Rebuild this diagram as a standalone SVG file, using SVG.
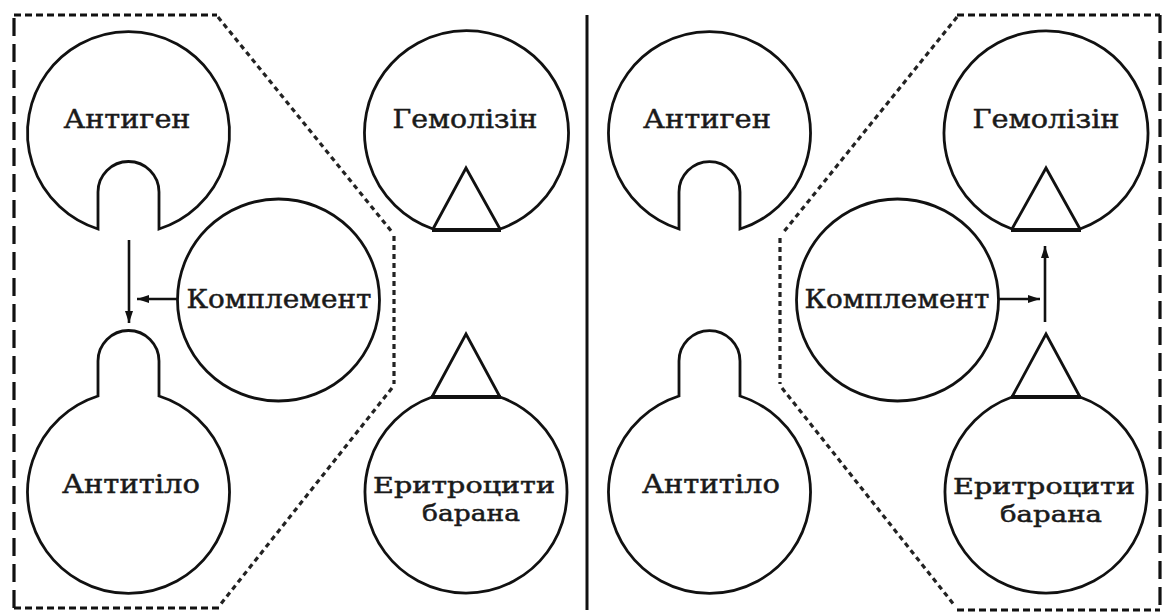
<svg xmlns="http://www.w3.org/2000/svg" width="1165" height="613" viewBox="0 0 1165 613">
<defs>
<style>
.shape{fill:none;stroke:#111;stroke-width:2.8;stroke-linejoin:miter}
.base{stroke:#111;stroke-width:4;fill:none}
.lbl{font-family:"DejaVu Serif","Liberation Serif",serif;font-size:26px;fill:#1a1a1a;stroke:#1a1a1a;stroke-width:0.5;text-anchor:middle}
.sm{font-size:23px}
.edge{fill:none;stroke:#111;stroke-width:3.2;stroke-dasharray:18 8}
.dash{fill:none;stroke:#111;stroke-width:3.2;stroke-dasharray:7 4}
.dot{fill:none;stroke:#222;stroke-width:3.2;stroke-dasharray:5 4}
.conn{stroke:#111;stroke-width:2.6;fill:none}
</style>
<marker id="ah" viewBox="0 0 12 8" refX="12" refY="4" markerWidth="12" markerHeight="8" markerUnits="userSpaceOnUse" orient="auto">
<path d="M0,0 L12,4 L0,8 Z" fill="#111"/>
</marker>
</defs>
<rect width="1165" height="613" fill="#fff"/>

<g id="frames">
<line x1="587" y1="15" x2="587" y2="610" stroke="#111" stroke-width="3"/>
<path class="edge" d="M14,608 L14,16"/>
<path class="dash" d="M14,15 L217,15"/>
<path class="dot" d="M218,17 L392,232"/>
<path class="dot" d="M394,236 L394,384"/>
<path class="dot" d="M392,388 L220,605"/>
<path class="dash" d="M14,608 L220,608"/>
<path class="edge" d="M1160,15 L1160,610"/>
<path class="dash" d="M957,15 L1160,15"/>
<path class="dot" d="M957,17 L782,234"/>
<path class="dot" d="M780,238 L780,384"/>
<path class="dot" d="M782,388 L955,606"/>
<path class="dash" d="M957,610 L1160,610"/>
</g>

<g id="antigen-left">
<path class="shape" d="M98,229 A101,101 0 1 1 159,229 L159,192 A30.5,30.5 0 0 0 98,192 Z"/>
<text class="lbl" x="127" y="128" textLength="127" lengthAdjust="spacingAndGlyphs">Антиген</text>
</g>
<g id="antibody-left">
<path class="shape" d="M98,396 L98,361 A30.5,30.5 0 0 1 159,361 L159,396 A101,101 0 1 1 98,396 Z"/>
<text class="lbl" x="131" y="493" textLength="138" lengthAdjust="spacingAndGlyphs">Антитіло</text>
</g>
<g id="complement-left">
<circle class="shape" cx="278.5" cy="300" r="101"/>
<text class="lbl" x="279" y="308" textLength="185" lengthAdjust="spacingAndGlyphs">Комплемент</text>
</g>
<g id="hemolysin-left">
<path class="shape" d="M433,229 A102,102 0 1 1 500,229"/>
<path class="shape" d="M433,229 L466,168 L500,229"/>
<line class="base" x1="432" y1="230" x2="501" y2="230"/>
<text class="lbl" x="465" y="128" textLength="145" lengthAdjust="spacingAndGlyphs">Гемолізін</text>
</g>
<g id="erythrocytes-left">
<path class="shape" d="M500,397 A101,101 0 1 1 432,397"/>
<path class="shape" d="M432,397 L466,334 L500,397"/>
<line class="base" x1="431" y1="397" x2="501" y2="397"/>
<text class="lbl sm" x="464" y="493" textLength="182" lengthAdjust="spacingAndGlyphs">Еритроцити</text>
<text class="lbl sm" x="471" y="521" textLength="98" lengthAdjust="spacingAndGlyphs">барана</text>
</g>

<g id="antigen-right">
<path class="shape" d="M679,229 A101,101 0 1 1 740,229 L740,192 A30.5,30.5 0 0 0 679,192 Z"/>
<text class="lbl" x="707" y="128" textLength="128" lengthAdjust="spacingAndGlyphs">Антиген</text>
</g>
<g id="antibody-right">
<path class="shape" d="M679,396 L679,361 A30.5,30.5 0 0 1 740,361 L740,396 A101,101 0 1 1 679,396 Z"/>
<text class="lbl" x="711" y="493" textLength="138" lengthAdjust="spacingAndGlyphs">Антитіло</text>
</g>
<g id="complement-right">
<circle class="shape" cx="897.5" cy="300" r="101"/>
<text class="lbl" x="897" y="308" textLength="185" lengthAdjust="spacingAndGlyphs">Комплемент</text>
</g>
<g id="hemolysin-right">
<path class="shape" d="M1012,229 A102,102 0 1 1 1080,229"/>
<path class="shape" d="M1012,229 L1046,168 L1080,229"/>
<line class="base" x1="1011" y1="230" x2="1081" y2="230"/>
<text class="lbl" x="1046" y="128" textLength="147" lengthAdjust="spacingAndGlyphs">Гемолізін</text>
</g>
<g id="erythrocytes-right">
<path class="shape" d="M1080,397 A101,101 0 1 1 1012,397"/>
<path class="shape" d="M1012,397 L1046,334 L1080,397"/>
<line class="base" x1="1011" y1="397" x2="1081" y2="397"/>
<text class="lbl sm" x="1044" y="494" textLength="182" lengthAdjust="spacingAndGlyphs">Еритроцити</text>
<text class="lbl sm" x="1051" y="522" textLength="102" lengthAdjust="spacingAndGlyphs">барана</text>
</g>

<g id="connectors">
<line class="conn" x1="129" y1="240" x2="129" y2="323" marker-end="url(#ah)"/>
<line class="conn" x1="177" y1="299" x2="137" y2="299" marker-end="url(#ah)"/>
<line class="conn" x1="999" y1="299" x2="1040" y2="299" marker-end="url(#ah)"/>
<line class="conn" x1="1045" y1="322" x2="1045" y2="246" marker-end="url(#ah)"/>
</g>
</svg>
